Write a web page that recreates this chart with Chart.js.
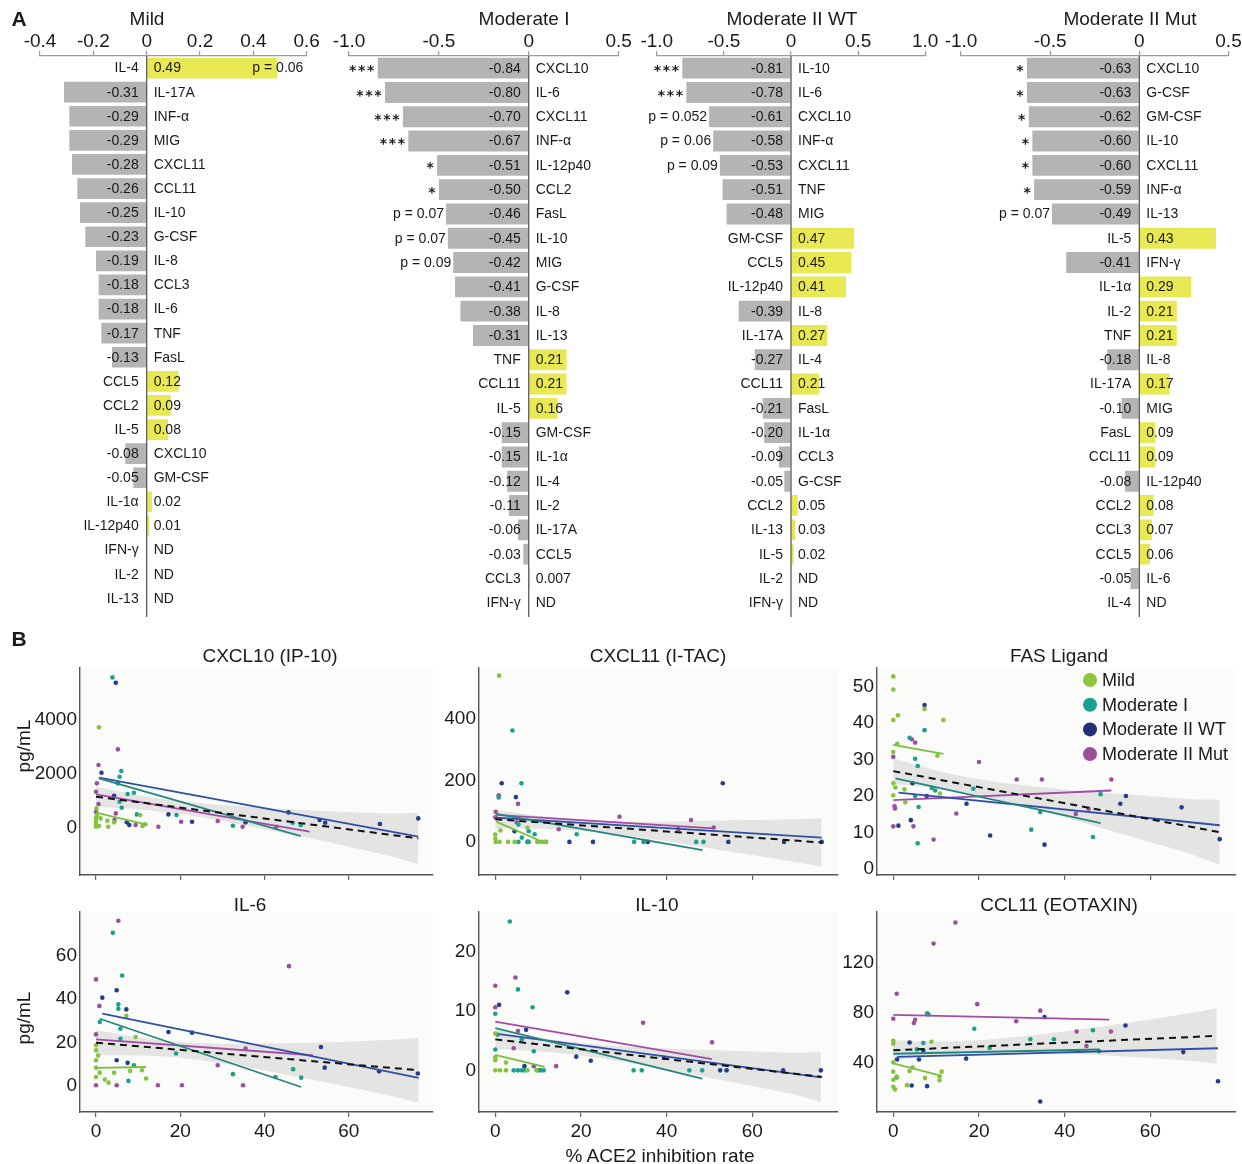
<!DOCTYPE html>
<html><head><meta charset="utf-8">
<script src="https://cdn.jsdelivr.net/npm/chart.js@4.4.1/dist/chart.umd.min.js"></script>
<style>
body{margin:0;background:#fff;width:1242px;height:1164px;position:relative;overflow:hidden;font-family:"Liberation Sans",Arial,Helvetica,sans-serif;color:#1a1a1a}
.t{position:absolute;white-space:nowrap;transform:translate(-50%,-50%);font-size:19px;line-height:1;z-index:2}
.r{transform:translate(-50%,-50%) rotate(-90deg)}
canvas{position:absolute;z-index:1}
</style></head><body>
<div class="t" style="left:19px;top:18px;font-weight:bold;font-size:21px">A</div>
<div class="t" style="left:19px;top:638px;font-weight:bold;font-size:21px">B</div>
<div class="t" style="left:147px;top:18px">Mild</div>
<div class="t" style="left:524px;top:18px">Moderate I</div>
<div class="t" style="left:792px;top:18px">Moderate II WT</div>
<div class="t" style="left:1130px;top:18px">Moderate II Mut</div>
<div class="t" style="left:270px;top:655px">CXCL10 (IP-10)</div>
<div class="t" style="left:658px;top:655px">CXCL11 (I-TAC)</div>
<div class="t" style="left:1059px;top:655px">FAS Ligand</div>
<div class="t" style="left:250px;top:904px">IL-6</div>
<div class="t" style="left:657px;top:904px">IL-10</div>
<div class="t" style="left:1059px;top:904px">CCL11 (EOTAXIN)</div>
<div class="t r" style="left:23px;top:746px">pg/mL</div>
<div class="t r" style="left:23px;top:1018px">pg/mL</div>
<div class="t" style="left:660px;top:1155px">% ACE2 inhibition rate</div>

<canvas id="b1" width="335" height="625" style="left:0;top:0"></canvas>
<canvas id="b2" width="310" height="625" style="left:330px;top:0"></canvas>
<canvas id="b3" width="320" height="625" style="left:630px;top:0"></canvas>
<canvas id="b4" width="302" height="625" style="left:940px;top:0"></canvas>
<canvas id="s1" width="429" height="241" style="left:10px;top:664px"></canvas>
<canvas id="s2" width="435" height="241" style="left:409px;top:664px"></canvas>
<canvas id="s3" width="435" height="241" style="left:807px;top:664px"></canvas>
<canvas id="s4" width="429" height="234" style="left:10px;top:908px"></canvas>
<canvas id="s5" width="435" height="234" style="left:409px;top:908px"></canvas>
<canvas id="s6" width="435" height="234" style="left:807px;top:908px"></canvas>
<script>
// ---------------- Panel A data ----------------
const mildCategories = ['IL-4','IL-17A','INF-α','MIG','CXCL11','CCL11','IL-10','G-CSF','IL-8','CCL3','IL-6','TNF','FasL','CCL5','CCL2','IL-5','CXCL10','GM-CSF','IL-1α','IL-12p40','IFN-γ','IL-2','IL-13'];
const mildValues = [0.49,-0.31,-0.29,-0.29,-0.28,-0.26,-0.25,-0.23,-0.19,-0.18,-0.18,-0.17,-0.13,0.12,0.09,0.08,-0.08,-0.05,0.02,0.01,null,null,null];
const mildNotes = ['p = 0.06','','','','','','','','','','','','','','','','','','','','','',''];

const modICategories = ['CXCL10','IL-6','CXCL11','INF-α','IL-12p40','CCL2','FasL','IL-10','MIG','G-CSF','IL-8','IL-13','TNF','CCL11','IL-5','GM-CSF','IL-1α','IL-4','IL-2','IL-17A','CCL5','CCL3','IFN-γ'];
const modIValues = [-0.84,-0.80,-0.70,-0.67,-0.51,-0.50,-0.46,-0.45,-0.42,-0.41,-0.38,-0.31,0.21,0.21,0.16,-0.15,-0.15,-0.12,-0.11,-0.06,-0.03,0.007,null];
const modINotes = ['***','***','***','***','*','*','p = 0.07','p = 0.07','p = 0.09','','','','','','','','','','','','','',''];

const modIIwtCategories = ['IL-10','IL-6','CXCL10','INF-α','CXCL11','TNF','MIG','GM-CSF','CCL5','IL-12p40','IL-8','IL-17A','IL-4','CCL11','FasL','IL-1α','CCL3','G-CSF','CCL2','IL-13','IL-5','IL-2','IFN-γ'];
const modIIwtValues = [-0.81,-0.78,-0.61,-0.58,-0.53,-0.51,-0.48,0.47,0.45,0.41,-0.39,0.27,-0.27,0.21,-0.21,-0.20,-0.09,-0.05,0.05,0.03,0.02,null,null];
const modIIwtNotes = ['***','***','p = 0.052','p = 0.06','p = 0.09','','','','','','','','','','','','','','','','','',''];

const modIImutCategories = ['CXCL10','G-CSF','GM-CSF','IL-10','CXCL11','INF-α','IL-13','IL-5','IFN-γ','IL-1α','IL-2','TNF','IL-8','IL-17A','MIG','FasL','CCL11','IL-12p40','CCL2','CCL3','CCL5','IL-6','IL-4'];
const modIImutValues = [-0.63,-0.63,-0.62,-0.60,-0.60,-0.59,-0.49,0.43,-0.41,0.29,0.21,0.21,-0.18,0.17,-0.10,0.09,0.09,-0.08,0.08,0.07,0.06,-0.05,null];
const modIImutNotes = ['*','*','*','*','*','*','p = 0.07','','','','','','','','','','','','','','','',''];

const mildTicks = [-0.4,-0.2,0,0.2,0.4,0.6];
const mildTickLabels = ['-0.4','-0.2','0','0.2','0.4','0.6'];
const halfTicks = [-1,-0.5,0,0.5];
const halfTickLabels = ['-1.0','-0.5','0','0.5'];
const fullTicks = [-1,-0.5,0,0.5,1];
const fullTickLabels = ['-1.0','-0.5','0','0.5','1.0'];

// ---------------- Panel B data ----------------
const groupNames = ['Mild','Moderate I','Moderate II WT','Moderate II Mut'];
const xTicks = [0,20,40,60];
const xTickLabels = ['0','20','40','60'];

const cxcl10Mild = [[0.7,3730],[0.1,729],[0.2,457],[1.1,358],[0,358],[0,235],[0,148],[0,49],[0.7,74],[2.7,272],[2.9,49],[4.3,210],[10.5,482],[11,74],[11.7,136]];
const cxcl10ModI = [[3.9,5582],[6.0,2112],[5.6,1900],[5.2,1655],[9.0,1309],[7.5,1260],[5.6,975],[6.1,753],[9.7,506],[19.1,482],[32.5,86],[46.7,198],[48.6,111]];
const cxcl10Wt = [[4.7,5385],[1.3,2050],[4.3,1198],[7.3,210],[7.9,111],[17.2,506],[22.8,235],[35.5,210],[45.7,580],[53.1,296],[54.4,198],[67.4,148],[76.5,358]];
const cxcl10Mut = [[5.2,2915],[0.6,2334],[0.2,1655],[0,1346],[0.6,889],[0,605],[4.7,543],[4.4,296],[9.4,111],[14.8,49],[20.2,235],[28.9,259],[34.8,49],[42.8,49]];
const cxcl10FitMild = [[0,568],[11.8,136]];
const cxcl10FitModI = [[0.7,1840],[48.6,-296]];
const cxcl10FitWt = [[0.7,1865],[76.5,-321]];
const cxcl10FitMut = [[0,1247],[50.7,-136]];
const cxcl10FitAll = [[0,1161],[76.5,-383]];
const cxcl10BandX = [0,10,20,30,40,50,60,70,76.5];
const cxcl10BandHi = [1531,1218,998,851,748,657,591,537,567];
const cxcl10BandLo = [791,700,516,259,-42,-355,-693,-1043,-1335];
const cxcl10YTicks = [0,2000,4000];

const cxcl11Mild = [[0.9,542],[7.5,46],[0,24],[1.2,37],[0,11],[0.1,0],[1,0],[3,0],[4.5,0],[9.8,0],[10.7,0],[11.5,0],[11.9,0]];
const cxcl11ModI = [[4,363],[6.1,191],[0.8,145],[5.4,57],[9.2,25],[19,25],[7.8,35],[6.2,14],[5.4,0],[7.5,0],[7.8,0],[32.4,0],[34.6,0],[46.9,0],[48.6,0]];
const cxcl11Wt = [[1.5,191],[53.1,191],[4.8,146],[4.5,35],[7.6,0],[17.3,0],[22.8,0],[35.6,0],[54.4,0],[67.4,0],[76.2,0]];
const cxcl11Mut = [[0.8,152],[5.3,124],[0.1,98],[0,80],[29,82],[45.7,71],[51,47],[42.7,42],[14.8,41],[5,64]];
const cxcl11FitMild = [[0.2,66],[10.7,2]];
const cxcl11FitModI = [[0.2,91],[48.4,-27]];
const cxcl11FitWt = [[0.2,79],[76.2,14]];
const cxcl11FitMut = [[0.2,88],[51,44]];
const cxcl11FitAll = [[0,74],[76.2,-2]];
const cxcl11BandX = [0,10,20,30,40,50,60,70,76.2];
const cxcl11BandHi = [104,85,72,66,66,69,71,74,77];
const cxcl11BandLo = [44,43,36,22,2,-21,-43,-66,-81];
const cxcl11YTicks = [0,200,400];

const fasMild = [[0,52.7],[0,49.1],[1.1,42.1],[0,40.8],[7.3,43.8],[11.7,40.8],[0.9,34.3],[0,32],[10.3,31],[0,23.5],[2.6,21.8],[0.5,22.3],[0,20.2],[10.9,20.7],[2.8,18.3]];
const fasModI = [[7.3,38],[3.8,35.9],[5.1,30.2],[5.7,28.2],[18.7,22],[9,22.2],[9.8,21.5],[5.1,20],[48.4,20.5],[5.9,17],[34.3,15.6],[32.2,10.8],[46.6,8.8],[5.7,7.1]];
const fasWt = [[7.3,44.9],[4.5,23.5],[7.8,20],[17.1,17.9],[54.3,20],[53,17.9],[67.3,16.9],[4.1,13.4],[1.2,11.9],[22.6,9.2],[35.3,6.7],[76.2,8.2]];
const fasMut = [[4.3,35.5],[5.1,34.6],[0,30.7],[20,29.3],[28.8,24.5],[34.7,24.5],[50.9,24.5],[45.6,16.5],[42.6,15.1],[14.7,15.2],[0.3,17.2],[0.4,16.6],[0,11.7],[4.7,11.7],[9.4,8.1]];
const fasFitMild = [[0,34],[11.7,31.5]];
const fasFitModI = [[0.5,24.8],[48.4,12.6]];
const fasFitWt = [[1.2,20.9],[76.2,12]];
const fasFitMut = [[0,18.9],[50.9,21.5]];
const fasFitAll = [[0,26.8],[76.2,10.1]];
const fasBandX = [0,10,20,30,40,50,60,70,76.2];
const fasBandHi = [30.3,27.0,24.6,23.0,21.8,20.8,20.0,19.1,19.0];
const fasBandLo = [23.3,22.2,20.2,17.4,14.2,10.8,7.4,3.9,1.2];
const fasYTicks = [0,10,20,30,40,50];

const il6Mild = [[7.2,32.2],[0,18.7],[9.4,22.5],[0,16.4],[0.5,14],[0,11.8],[0,8.4],[0.9,6.1],[4.3,6],[8.1,6.9],[10.9,7.2],[11.9,3.4],[0,4.1],[3,1.5],[2.1,2.9]];
const il6ModI = [[4,70.4],[6.2,50.8],[5.3,37.5],[5.3,35.5],[0.9,29.4],[5.8,26.3],[5.8,21.7],[19,14.9],[46.8,7.7],[48.7,3.8],[32.5,5.4],[42.6,4.1],[9,9.5],[7.7,2.3]];
const il6Wt = [[4.9,44],[1.5,40.6],[7.2,35.2],[17.2,24.8],[22.8,24.5],[53.4,17.9],[54.3,8.4],[67.2,6.7],[76.4,5.7],[4.9,11.8],[7.5,10.6]];
const il6Mut = [[5.3,76],[0,49],[0.8,36.8],[0,23.7],[45.8,55.1],[35.5,17.2],[28.9,9.5],[0,0.3],[4.9,0.3],[14.7,0.3],[20.4,0.3],[34.9,0.3]];
const il6FitMild = [[0,8.3],[11.9,8.7]];
const il6FitModI = [[0.9,30.9],[48.7,-0.5]];
const il6FitWt = [[1.5,33.2],[76.6,3.7]];
const il6FitMut = [[0,21.4],[51.5,14.1]];
const il6FitAll = [[0,19.9],[76.6,7.2]];
const il6BandX = [0,10,20,30,40,50,60,70,76.6];
const il6BandHi = [25.7,22.4,20.2,19.4,19.5,19.8,20.3,21.2,22.0];
const il6BandLo = [14.1,14.0,13.0,10.4,7.1,3.4,-0.5,-4.6,-7.6];
const il6YTicks = [0,20,40,60];

const il10Mild = [[0,6.2],[2.5,1.3],[0,2.2],[0,1.7],[0,0],[1.1,0],[2.5,0],[7.5,0],[9.6,0]];
const il10ModI = [[3.4,25],[5.3,13.6],[8.7,10.6],[0,9.5],[0.5,6],[6.2,5.2],[9,3.2],[0,3.5],[32.3,0],[34.2,0],[45.3,0],[48.3,0],[4.3,0],[5.3,0],[6.2,0],[6.8,0],[10,0],[10.6,0],[11.3,0]];
const il10Wt = [[16.8,13.1],[0.9,11],[7.2,6.8],[18.9,2.3],[22.3,1.6],[6.8,0.7],[39.4,2.1],[52.5,0],[54,0],[67.2,0],[76,0]];
const il10Mut = [[4.7,15.6],[0,14.2],[0,10.6],[34.5,8],[5.3,6.6],[50.6,4.7],[4.3,3.7],[9,0.7],[14.2,0.7]];
const il10FitMild = [[0,2.6],[11.5,0.6]];
const il10FitModI = [[0,7.1],[48.3,-1.4]];
const il10FitWt = [[0.9,6.1],[76,-1.2]];
const il10FitMut = [[0,8.2],[50.6,1.9]];
const il10FitAll = [[0,5.2],[76.3,-1.1]];
const il10BandX = [0,10,20,30,40,50,60,70,76];
const il10BandHi = [6.8,5.5,4.6,4.0,3.65,3.4,3.15,2.95,3.1];
const il10BandLo = [3.6,3.2,2.5,1.4,0.15,-1.25,-2.65,-4.1,-5.3];
const il10YTicks = [0,10,20];

const ccl11Mild = [[0,57.3],[0,55],[8.9,56.6],[0,40],[4.5,36],[3.8,33],[11.3,32.5],[0,32.5],[0.8,28.6],[10.8,28.6],[7.4,27.3],[0,26],[3.2,21.6],[0,20.3],[0.4,18.2],[10.8,25.5]];
const ccl11ModI = [[7.9,79.5],[8.2,78.5],[18.9,67],[46.6,65.8],[37.5,58.6],[32,58.6],[7,55.5],[22.5,51.6],[5.5,50.4],[48,49],[0.8,27.8]];
const ccl11Wt = [[35.3,76.4],[54.2,69.6],[3.8,56],[7,49.6],[67.7,48.2],[17,43],[6,42.3],[0.9,42.3],[4.3,21.3],[7.9,20.8],[75.8,24.7],[34.3,8.5]];
const ccl11Mut = [[14.5,152.6],[9.4,135.7],[0.8,95.2],[19.6,86.8],[34.3,81.6],[0,75.1],[5.1,74.3],[4.8,71.7],[28.7,73],[42.8,64.8],[50.8,64.8],[45.1,53.1]];
const ccl11FitMild = [[0,39.2],[11.3,29.1]];
const ccl11FitModI = [[0,46.9],[48.1,50.3]];
const ccl11FitWt = [[0.9,44.3],[75.8,51.3]];
const ccl11FitMut = [[0,78.2],[50.4,74.3]];
const ccl11FitAll = [[0,49.7],[75.5,61.3]];
const ccl11BandX = [0,10,20,30,40,50,60,70,75.5];
const ccl11BandHi = [57.7,56.7,57.8,60.8,64.9,69.4,74.4,80,83.8];
const ccl11BandLo = [41.7,45.7,47.8,47.8,46.9,45.4,43.4,41,38.8];
const ccl11YTicks = [40,80,120];

// ---------------- styles ----------------
const FONT = '"Liberation Sans", Arial, Helvetica, sans-serif';
const TXT = '#1a1a1a';
const GREY = '#b4b4b4';
const YELLOW = '#e8e853';
const pointColors = ['#84c341','#1aa090','#233d8c','#9c4f9e'];
const fitColors = ['#78c03c','#23877d','#3050a5','#a34ca6'];
const legendColors = ['#8cc63f','#16a394','#232f7a','#9b4f96'];

function fmt(v){ return Math.abs(v) < 0.01 ? String(v) : v.toFixed(2); }

const barTextPlugin = {
  id: 'barText',
  afterDatasetsDraw(chart, args, o) {
    const {ctx, chartArea: ca, scales: {x, y}} = chart;
    const cats = chart.data.labels, vals = chart.data.datasets[0].data, notes = o.notes || [];
    const x0 = x.getPixelForValue(0);
    ctx.save();
    ctx.strokeStyle = '#5a5a5a'; ctx.lineWidth = 1.3;
    ctx.beginPath(); ctx.moveTo(x0, ca.top); ctx.lineTo(x0, o.lineEnd); ctx.stroke();
    ctx.fillStyle = TXT; ctx.textBaseline = 'middle';
    cats.forEach((c, i) => {
      const yy = y.getPixelForValue(i) + 0.5;
      const v = vals[i];
      const neg = v !== null && v < 0;
      const vt = v === null ? 'ND' : fmt(v);
      ctx.font = '14px ' + FONT;
      ctx.textAlign = 'right'; ctx.fillText(neg ? vt : c, x0 - 8, yy);
      ctx.textAlign = 'left'; ctx.fillText(neg ? c : vt, x0 + 7, yy);
      const n = notes[i];
      if (n && v !== null) {
        const xe = x.getPixelForValue(v);
        if (/^\*+$/.test(n)) {
          ctx.font = 'bold 14px "DejaVu Sans", sans-serif'; ctx.textAlign = 'center';
          for (let k = 0; k < n.length; k++) ctx.fillText('*', xe - 7 - k * 9, yy + 3);
        } else if (neg) {
          ctx.textAlign = 'right'; ctx.fillText(n, xe - 2, yy);
        } else {
          ctx.textAlign = 'left'; ctx.fillText(n, xe - 25, yy);
        }
      }
    });
    ctx.restore();
  }
};

function makeBar(id, cats, vals, notes, ticks, tickLabels, min, max, pad) {
  new Chart(document.getElementById(id), {
    type: 'bar',
    data: { labels: cats, datasets: [{ data: vals,
      backgroundColor: vals.map(v => v !== null && v < 0 ? GREY : YELLOW),
      borderWidth: 0, barPercentage: 0.86, categoryPercentage: 1 }] },
    options: {
      indexAxis: 'y', responsive: false, animation: false, devicePixelRatio: 1,
      layout: { padding: pad },
      plugins: { legend: { display: false }, tooltip: { enabled: false }, barText: { notes: notes, lineEnd: 617 } },
      scales: {
        x: { type: 'linear', position: 'top', min: min, max: max,
          afterBuildTicks: s => { s.ticks = ticks.map(v => ({ value: v })); },
          afterFit: s => { s.height = 56; s.paddingLeft = 0; s.paddingRight = 0; },
          ticks: { callback: (v, i) => tickLabels[i], font: { size: 19, family: FONT }, color: TXT, padding: -2, maxRotation: 0, autoSkip: false },
          grid: { drawOnChartArea: false, drawTicks: true, tickLength: 5, color: '#9a9a9a', lineWidth: 1.2 },
          border: { color: '#9a9a9a', width: 1.2 } },
        y: { display: false }
      }
    },
    plugins: [barTextPlugin]
  });
}

makeBar('b1', mildCategories, mildValues, mildNotes, mildTicks, mildTickLabels, -0.4, 0.6, { left: 40, right: 28.3, top: 0, bottom: 14.7 });
makeBar('b2', modICategories, modIValues, modINotes, halfTicks, halfTickLabels, -1, 0.5, { left: 19, right: 21.4, top: 0, bottom: 10.1 });
makeBar('b3', modIIwtCategories, modIIwtValues, modIIwtNotes, fullTicks, fullTickLabels, -1, 1, { left: 26.8, right: 24.8, top: 0, bottom: 10.1 });
makeBar('b4', modIImutCategories, modIImutValues, modIImutNotes, halfTicks, halfTickLabels, -1, 0.5, { left: 21, right: 13.5, top: 0, bottom: 10.1 });

const plotBgPlugin = {
  id: 'plotBg',
  beforeDraw(chart) {
    const {ctx, chartArea: ca} = chart;
    ctx.save(); ctx.fillStyle = '#fbfbf9';
    ctx.fillRect(ca.left, ca.top, ca.right - ca.left, ca.bottom - ca.top);
    ctx.restore();
  }
};
const groupLegendPlugin = {
  id: 'groupLegend',
  afterDraw(chart, args, o) {
    if (!o.show) return;
    const {ctx, chartArea: ca} = chart;
    ctx.save();
    ctx.font = '18px ' + FONT; ctx.textBaseline = 'middle'; ctx.textAlign = 'left';
    groupNames.forEach((name, i) => {
      const cx = ca.right - 146, cy = ca.top + 12 + i * 24.7;
      ctx.fillStyle = legendColors[i];
      ctx.beginPath(); ctx.arc(cx, cy, 7, 0, Math.PI * 2); ctx.fill();
      ctx.fillStyle = TXT; ctx.fillText(name, cx + 12, cy + 1);
    });
    ctx.restore();
  }
};

const toXY = arr => arr.map(p => ({ x: p[0], y: p[1] }));

function makeScatter(id, groups, fits, fitAll, bandX, bandHi, bandLo, yTicks, yMin, yMax, showX, showLegend) {
  const ds = [];
  ds.push({ type: 'line', data: bandX.map((xv, i) => ({ x: xv, y: bandHi[i] })), borderColor: 'transparent', borderWidth: 0, pointRadius: 0, fill: '+1', backgroundColor: 'rgba(205,205,205,0.5)', tension: 0.3, order: 10 });
  ds.push({ type: 'line', data: bandX.map((xv, i) => ({ x: xv, y: bandLo[i] })), borderColor: 'transparent', borderWidth: 0, pointRadius: 0, fill: false, tension: 0.3, order: 10 });
  groups.forEach((g, i) => ds.push({ type: 'scatter', label: groupNames[i], data: toXY(g), backgroundColor: pointColors[i], pointRadius: 2.3, pointBorderWidth: 0, borderWidth: 0, order: 3 }));
  fits.forEach((f, i) => ds.push({ type: 'line', data: toXY(f), borderColor: fitColors[i], borderWidth: 1.8, pointRadius: 0, fill: false, order: 2 }));
  ds.push({ type: 'line', data: toXY(fitAll), borderColor: '#111', borderWidth: 2, borderDash: [7, 5], pointRadius: 0, fill: false, order: 1 });
  new Chart(document.getElementById(id), {
    type: 'scatter',
    data: { datasets: ds },
    options: {
      responsive: false, animation: false, devicePixelRatio: 1,
      layout: { padding: { left: 0, right: 6, top: 4, bottom: 0 } },
      plugins: { legend: { display: false }, tooltip: { enabled: false }, groupLegend: { show: showLegend } },
      scales: {
        x: { type: 'linear', min: -3.8, max: 80,
          afterBuildTicks: s => { s.ticks = xTicks.map(v => ({ value: v })); },
          afterFit: s => { s.height = 30; s.paddingLeft = 0; s.paddingRight = 0; },
          ticks: { callback: (v, i) => showX ? xTickLabels[i] : '', font: { size: 19, family: FONT }, color: TXT, padding: 3, maxRotation: 0, autoSkip: false },
          grid: { display: true, drawOnChartArea: false, drawTicks: true, tickLength: 5, color: '#666', lineWidth: 1.2 },
          border: { color: '#555', width: 1.4 } },
        y: { type: 'linear', min: yMin, max: yMax,
          afterBuildTicks: s => { s.ticks = yTicks.map(v => ({ value: v })); },
          afterFit: s => { s.width = 70; s.paddingTop = 0; s.paddingBottom = 0; },
          ticks: { callback: (v, i) => String(yTicks[i]), font: { size: 19, family: FONT }, color: TXT, padding: 3, autoSkip: false },
          grid: { display: false, drawTicks: false },
          border: { color: '#555', width: 1.4 } }
      }
    },
    plugins: [plotBgPlugin, groupLegendPlugin]
  });
}

makeScatter('s1', [cxcl10Mild, cxcl10ModI, cxcl10Wt, cxcl10Mut], [cxcl10FitMild, cxcl10FitModI, cxcl10FitWt, cxcl10FitMut], cxcl10FitAll, cxcl10BandX, cxcl10BandHi, cxcl10BandLo, cxcl10YTicks, -1740, 5930, false, false);
makeScatter('s2', [cxcl11Mild, cxcl11ModI, cxcl11Wt, cxcl11Mut], [cxcl11FitMild, cxcl11FitModI, cxcl11FitWt, cxcl11FitMut], cxcl11FitAll, cxcl11BandX, cxcl11BandHi, cxcl11BandLo, cxcl11YTicks, -108, 567, false, false);
makeScatter('s3', [fasMild, fasModI, fasWt, fasMut], [fasFitMild, fasFitModI, fasFitWt, fasFitMut], fasFitAll, fasBandX, fasBandHi, fasBandLo, fasYTicks, -1.6, 55, false, true);
makeScatter('s4', [il6Mild, il6ModI, il6Wt, il6Mut], [il6FitMild, il6FitModI, il6FitWt, il6FitMut], il6FitAll, il6BandX, il6BandHi, il6BandLo, il6YTicks, -12, 80, true, false);
makeScatter('s5', [il10Mild, il10ModI, il10Wt, il10Mut], [il10FitMild, il10FitModI, il10FitWt, il10FitMut], il10FitAll, il10BandX, il10BandHi, il10BandLo, il10YTicks, -7, 26.6, true, false);
makeScatter('s6', [ccl11Mild, ccl11ModI, ccl11Wt, ccl11Mut], [ccl11FitMild, ccl11FitModI, ccl11FitWt, ccl11FitMut], ccl11FitAll, ccl11BandX, ccl11BandHi, ccl11BandLo, ccl11YTicks, 0, 161, true, false);
</script>
</body></html>
